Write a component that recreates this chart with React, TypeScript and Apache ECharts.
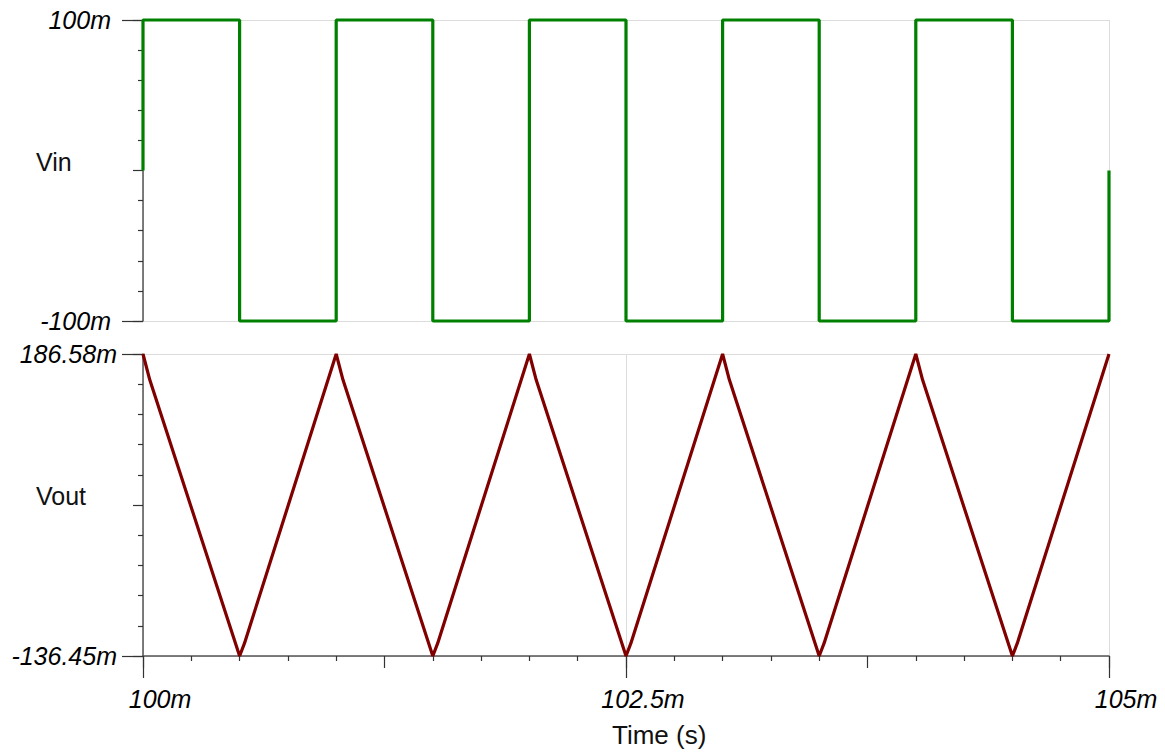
import React, { useEffect, useRef } from "react";
import * as echarts from "echarts";

// Time in ms, voltages in mV
const vinTime = [100, 100, 100.5, 100.5, 101, 101, 101.5, 101.5, 102, 102, 102.5, 102.5, 103, 103, 103.5, 103.5, 104, 104, 104.5, 104.5, 105, 105];
const vinMv = [0, 100, 100, -100, -100, 100, 100, -100, -100, 100, 100, -100, -100, 100, 100, -100, -100, 100, 100, -100, -100, 0];

const voutTime = [100, 100.035, 100.5, 100.525, 101, 101.035, 101.5, 101.525, 102, 102.035, 102.5, 102.525, 103, 103.035, 103.5, 103.525, 104, 104.035, 104.5, 104.525, 105];
const voutMv = [186.58, 159.0, -136.45, -123.0, 186.58, 159.0, -136.45, -123.0, 186.58, 159.0, -136.45, -123.0, 186.58, 159.0, -136.45, -123.0, 186.58, 159.0, -136.45, -123.0, 186.58];

const timeRange = [100, 105];
const vinRange = [-100, 100];
const voutRange = [-136.45, 186.58];

const FONT = "'Liberation Sans', Arial, sans-serif";
const AXIS_COLOR = "#555";
const TICK_COLOR = "#333";
const GRID_COLOR = "#dcdcdc";

export default function App() {
  const ref = useRef<HTMLDivElement>(null);

  useEffect(() => {
    document.body.style.margin = "0";
    if (!ref.current) return;
    const chart = echarts.init(ref.current, null, { renderer: "svg" });

    const vinData = vinTime.map((t, i) => [t, vinMv[i]]);
    const voutData = voutTime.map((t, i) => [t, voutMv[i]]);

    const labelStyle = {
      fontFamily: FONT,
      fontSize: 25,
      fontStyle: "italic" as const,
      color: "#000",
    };

    const voutSpan = voutRange[1] - voutRange[0];

    const option: any = {
      animation: false,
      backgroundColor: "#fff",
      grid: [
        { left: 143, right: 56, top: 20, height: 301 },
        { left: 143, right: 56, top: 354, height: 302 },
      ],
      xAxis: [
        {
          type: "value",
          gridIndex: 0,
          min: timeRange[0],
          max: timeRange[1],
          interval: 2.5,
          position: "bottom",
          axisLine: { show: false, onZero: false },
          axisTick: { show: false },
          axisLabel: { show: false },
          splitLine: { show: true, lineStyle: { color: GRID_COLOR, width: 1 } },
        },
        {
          type: "value",
          gridIndex: 1,
          min: timeRange[0],
          max: timeRange[1],
          interval: 1.25,
          position: "bottom",
          axisLine: { show: true, onZero: false, lineStyle: { color: AXIS_COLOR, width: 1.5 } },
          axisTick: { show: true, length: 12, lineStyle: { color: TICK_COLOR, width: 1.2 } },
          minorTick: { show: true, splitNumber: 5, length: 5, lineStyle: { color: TICK_COLOR, width: 1.2 } },
          axisLabel: { show: false },
          splitLine: { show: false },
        },
        {
          type: "value",
          gridIndex: 1,
          min: timeRange[0],
          max: timeRange[1],
          interval: 2.5,
          position: "bottom",
          axisLine: { show: false, onZero: false },
          axisTick: { show: true, length: 22, lineStyle: { color: TICK_COLOR, width: 1.2 } },
          axisLabel: {
            show: true,
            ...labelStyle,
            margin: 30,
            padding: [0, 0, 0, 34],
            formatter: (v: number) => `${v}m`,
          },
          splitLine: { show: true, lineStyle: { color: GRID_COLOR, width: 1 } },
        },
      ],
      yAxis: [
        {
          type: "value",
          gridIndex: 0,
          position: "left",
          min: vinRange[0],
          max: vinRange[1],
          interval: 100,
          axisLine: { show: true, onZero: false, lineStyle: { color: AXIS_COLOR, width: 1.5 } },
          axisTick: { show: true, length: 10, lineStyle: { color: TICK_COLOR, width: 1.2 } },
          minorTick: { show: true, splitNumber: 5, length: 5, lineStyle: { color: TICK_COLOR, width: 1.2 } },
          axisLabel: { show: false },
          splitLine: { show: false },
        },
        {
          type: "value",
          gridIndex: 0,
          position: "left",
          min: vinRange[0],
          max: vinRange[1],
          interval: 200,
          axisLine: { show: false, onZero: false },
          axisTick: { show: true, length: 21, lineStyle: { color: TICK_COLOR, width: 1.2 } },
          axisLabel: {
            show: true,
            ...labelStyle,
            margin: 32,
            formatter: (v: number) => `${v}m`,
          },
          splitLine: { show: true, lineStyle: { color: GRID_COLOR, width: 1 } },
        },
        {
          type: "value",
          gridIndex: 1,
          position: "left",
          min: voutRange[0],
          max: voutRange[1],
          interval: voutSpan / 2,
          axisLine: { show: true, onZero: false, lineStyle: { color: AXIS_COLOR, width: 1.5 } },
          axisTick: { show: true, length: 10, lineStyle: { color: TICK_COLOR, width: 1.2 } },
          minorTick: { show: true, splitNumber: 5, length: 5, lineStyle: { color: TICK_COLOR, width: 1.2 } },
          axisLabel: { show: false },
          splitLine: { show: false },
        },
        {
          type: "value",
          gridIndex: 1,
          position: "left",
          min: voutRange[0],
          max: voutRange[1],
          interval: voutSpan,
          axisLine: { show: false, onZero: false },
          axisTick: { show: true, length: 21, lineStyle: { color: TICK_COLOR, width: 1.2 } },
          axisLabel: {
            show: true,
            ...labelStyle,
            margin: 26,
            formatter: (v: number) => `${v.toFixed(2)}m`,
          },
          splitLine: { show: true, lineStyle: { color: GRID_COLOR, width: 1 } },
        },
      ],
      graphic: [
        {
          type: "text",
          left: 36,
          top: 149,
          style: { text: "Vin", font: `25px ${FONT}`, fill: "#111" },
        },
        {
          type: "text",
          left: 36,
          top: 483,
          style: { text: "Vout", font: `25px ${FONT}`, fill: "#111" },
        },
        {
          type: "text",
          left: 612,
          top: 722,
          style: { text: "Time (s)", font: `26px ${FONT}`, fill: "#111" },
        },
      ],
      series: [
        {
          name: "Vin",
          type: "line",
          xAxisIndex: 0,
          yAxisIndex: 0,
          data: vinData,
          showSymbol: false,
          clip: false,
          lineStyle: { color: "#008000", width: 3.2 },
        },
        {
          name: "Vout",
          type: "line",
          xAxisIndex: 1,
          yAxisIndex: 2,
          data: voutData,
          showSymbol: false,
          clip: false,
          lineStyle: { color: "#800000", width: 3.2 },
        },
      ],
    };

    chart.setOption(option);
    return () => chart.dispose();
  }, []);

  return (
    <div
      ref={ref}
      style={{ position: "absolute", left: 0, top: 0, width: 1165, height: 754 }}
    />
  );
}
